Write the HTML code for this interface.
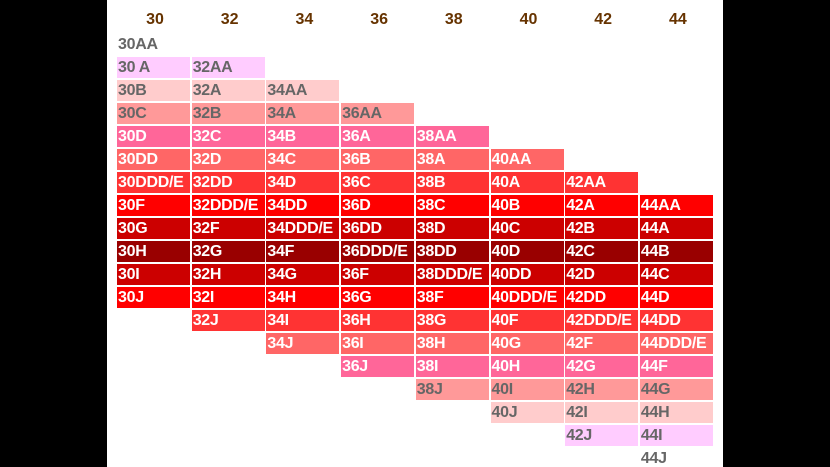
<!DOCTYPE html>
<html><head><style>
html,body{margin:0;width:830px;height:467px;background:#000;overflow:hidden}
body{position:relative;font-family:"Liberation Sans",Arial,sans-serif;font-weight:bold}
#w{position:absolute;left:107px;top:0;width:616px;height:480px;background:#fff}
.h{position:absolute;top:11px;color:#663300;font-size:16px;width:74px;text-align:center}
.c{position:absolute;width:73px;height:21px;font-size:16px;line-height:21px;padding-left:1px;box-sizing:border-box;white-space:nowrap;overflow:hidden;letter-spacing:-0.3px}
</style></head><body><div id="w"></div>
<script>
var sizes=["AA","A","B","C","D","DD","DDD/E","F","G","H","I","J"];
var cols=["#fff","#ffccff","#ffcccc","#ff9999","#ff6699","#ff6666","#ff3333","#ff0000","#cc0000","#990000","#cc0000","#ff0000","#ff3333","#ff6666","#ff6699","#ff9999","#ffcccc","#ffccff","#fff"];
var h="";
for(var k=0;k<8;k++){
 var b=30+2*k,x=117+k*74.7;
 h+='<div class="h" style="left:'+(x+1)+'px">'+b+'</div>';
 for(var i=0;i<12;i++){
  var r=k+i,y=34+r*23;
  var gray=(r<=3||r>=15);
  var t=b+(sizes[i]=="A"&&b==30?" A":sizes[i]);
  h+='<div class="c" style="left:'+x+'px;top:'+y+'px;background:'+cols[r]+';color:'+(gray?'#666':'#fff')+'">'+t+'</div>';
 }
}
document.body.insertAdjacentHTML('beforeend',h);
</script></body></html>
